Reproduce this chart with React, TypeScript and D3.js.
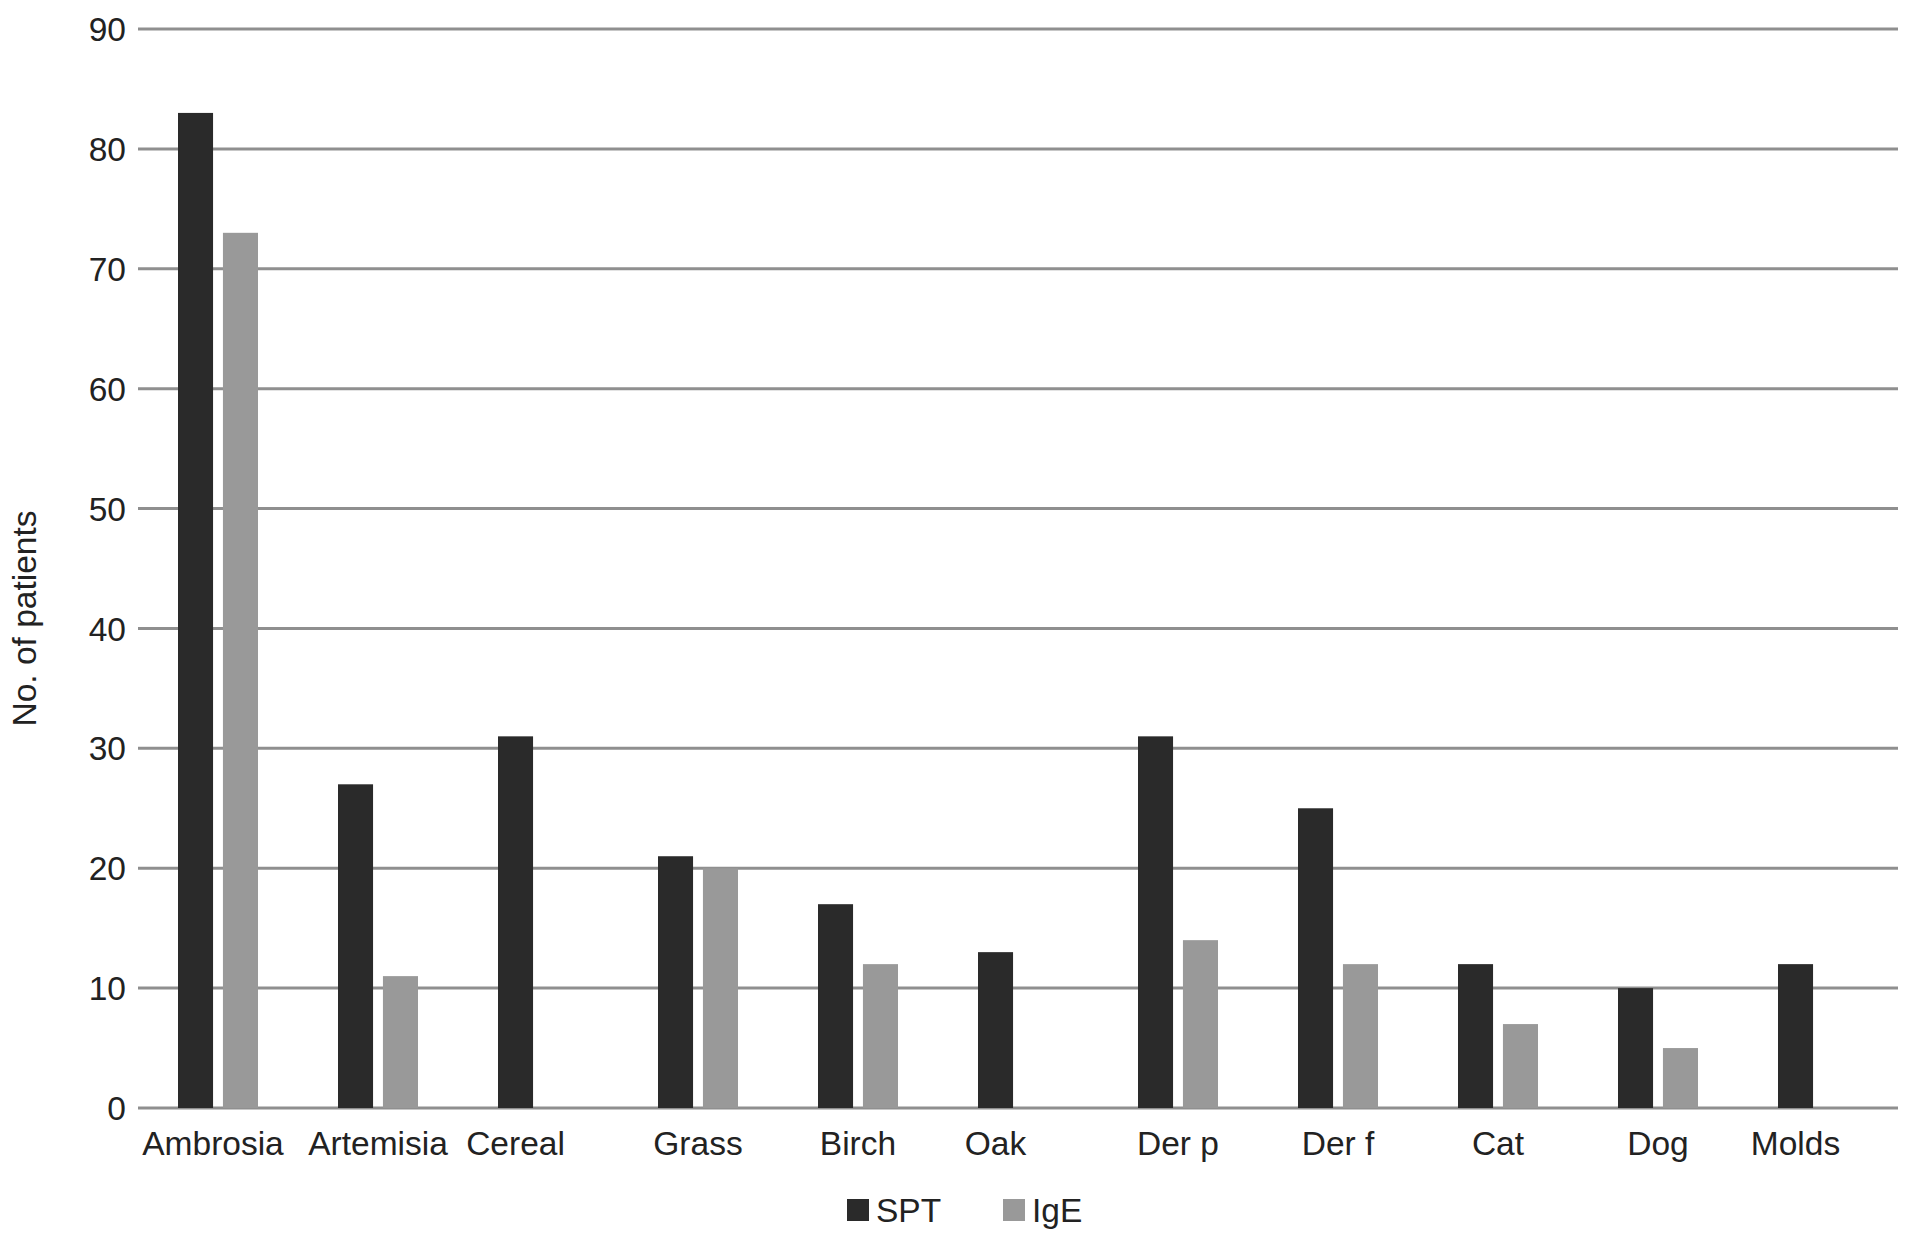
import * as d3 from "d3";

// Données
const categories = ["Ambrosia", "Artemisia", "Cereal", "Grass", "Birch", "Oak", "Der p", "Der f", "Cat", "Dog", "Molds"];
const sptValues = [83, 27, 31, 21, 17, 13, 31, 25, 12, 10, 12];
const igeValues = [73, 11, 0, 20, 12, 0, 14, 12, 7, 5, 0];
const seriesNames = ["SPT", "IgE"];
const seriesColors = ["#2a2a2a", "#999999"];
const yTicks = [0, 10, 20, 30, 40, 50, 60, 70, 80, 90];

const WIDTH = 1913;
const HEIGHT = 1242;
const margin = { top: 29, right: 15, bottom: 134, left: 138 };
const FONT = "'Liberation Sans', Arial, Helvetica, sans-serif";
const FS = 33.5;
const TEXT = "#222";

export default function App() {
  const innerRight = WIDTH - margin.right;
  const innerBottom = HEIGHT - margin.bottom;

  const x0 = d3.scaleBand<string>().domain(categories).range([margin.left, innerRight]).padding(0);
  const bw0 = x0.bandwidth();
  const x1 = d3
    .scaleBand<string>()
    .domain(seriesNames)
    .range([bw0 / 2 - 40, bw0 / 2 + 40])
    .paddingInner(0.22);
  const y = d3.scaleLinear().domain([0, 90]).range([innerBottom, margin.top]);

  const values = [sptValues, igeValues];

  // centre du libellé : milieu des barres non nulles
  const labelX = (i: number) => {
    const centers = seriesNames
      .filter((_, s) => values[s][i] > 0)
      .map((s) => (x0(categories[i]) || 0) + (x1(s) || 0) + x1.bandwidth() / 2);
    return d3.mean(centers) || 0;
  };

  return (
    <svg
      width={WIDTH}
      height={HEIGHT}
      style={{ position: "absolute", left: 0, top: 0, background: "#fff", fontFamily: FONT }}
    >
      {/* Grille horizontale */}
      {yTicks.map((t) => (
        <g key={t}>
          <line x1={margin.left} x2={innerRight} y1={y(t)} y2={y(t)} stroke="#8f8f8f" strokeWidth={3} />
          <text x={126} y={y(t)} dy="0.36em" textAnchor="end" fontSize={FS} fill={TEXT}>
            {t}
          </text>
        </g>
      ))}

      {/* Barres */}
      {categories.map((c, i) =>
        seriesNames.map((s, si) =>
          values[si][i] > 0 ? (
            <rect
              key={c + s}
              x={(x0(c) || 0) + (x1(s) || 0)}
              y={y(values[si][i])}
              width={x1.bandwidth()}
              height={y(0) - y(values[si][i])}
              fill={seriesColors[si]}
            />
          ) : null
        )
      )}

      {/* Libellés des catégories */}
      {categories.map((c, i) => (
        <text key={c} x={labelX(i) - (i === 0 ? 5 : 0)} y={1155} textAnchor="middle" fontSize={FS} fill={TEXT}>
          {c}
        </text>
      ))}

      {/* Titre axe Y */}
      <text
        transform={`translate(36, ${(margin.top + innerBottom) / 2 + 50}) rotate(-90)`}
        textAnchor="middle"
        fontSize={FS}
        fill={TEXT}
      >
        No. of patients
      </text>

      {/* Légende */}
      {seriesNames.map((s, si) => {
        const lx = [847, 1003][si];
        return (
          <g key={s}>
            <rect x={lx} y={1199} width={22} height={22} fill={seriesColors[si]} />
            <text x={lx + 29} y={1210} dy="0.36em" fontSize={FS} fill={TEXT}>
              {s}
            </text>
          </g>
        );
      })}
    </svg>
  );
}
